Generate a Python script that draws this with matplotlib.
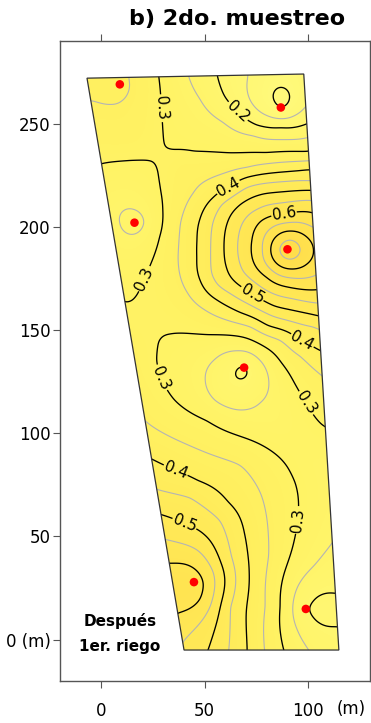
import numpy as np
import matplotlib
matplotlib.use('Agg')
import matplotlib.pyplot as plt
from matplotlib.patches import Polygon
from matplotlib.colors import LinearSegmentedColormap

# outline of the plot (m)
field_x = [-7, 98, 115, 40]
field_y = [272, 274, -5, -5]

# sampling points (red dots) and their values
sample_x = [8.9, 86.9, 16.0, 90.1, 69.1, 44.8, 99.0]
sample_y = [269.0, 257.8, 202.0, 189.1, 131.8, 27.9, 14.9]
sample_val = [0.37, 0.10, 0.23, 0.79, 0.195, 0.625, 0.20]

# points read along each contour line of the map
line_010 = [(84.5, 261), (90.8, 261), (87.6, 266.2), (87.6, 255.7)]
line_015 = [(71.5, 272.5), (72.3, 260.6), (80.4, 254), (93.4, 254), (99, 259)]
line_020 = [(56.2, 272.5), (59.4, 263), (65.9, 255.7), (74.8, 248.5), (87, 249), (99.9, 250),
            (65.8, 130.4), (70.8, 130.4), (68.3, 132.9), (68.3, 127.9),
            (103, 18.5), (113.6, 20.7), (103, 10.8), (113.6, 8.9)]
line_025 = [(42.4, 272), (48, 262.2), (59.4, 251), (73.9, 245.3), (99.9, 243.6),
            (10.2, 202), (21.2, 202), (15.7, 207.5), (15.7, 196.5),
            (50.5, 125.4), (80.9, 125.4), (65.7, 139.5), (65.7, 111.3),
            (55, 135.3), (76.4, 135.3), (55, 115.5), (76.4, 115.5),
            (111.5, 46.5), (103, 35.5), (95, 25.8), (92.6, 16.1), (95, 4.8), (99.9, -4)]
line_030 = [(27.8, 271.9), (28.6, 257.4), (29.5, 247.8), (30.2, 239.1), (35, 236.7), (45, 236),
            (62.6, 235.7), (80, 235.7), (99.9, 235.7),
            (0.3, 230.7), (14.1, 232.3), (24.6, 231.6), (27.8, 226.7), (28.6, 217), (29.5, 208.1),
            (27.8, 195.2), (20.5, 175), (15.7, 166.2), (11.7, 162.2),
            (27, 144.4), (33.5, 147.6), (51.8, 147.6), (67.5, 146.8), (78.8, 142), (86.9, 133.9),
            (93.4, 124.2), (99, 114.6), (106.3, 104.1),
            (26.2, 135.5), (28.6, 126.7), (35.1, 116.2), (51.3, 106.5), (67.5, 98.4), (83.6, 90.4),
            (90.1, 83.9), (94, 76), (95, 58), (93.4, 48.4), (88.5, 32.3), (86.9, 16.1), (88, -4)]
line_035 = [(12.5, 271.5), (13.3, 266.2), (10, 261.5), (4.4, 259.8), (-4.5, 262.2),
            (99.9, 232), (70.7, 228.2), (54.5, 224.3), (44.8, 216), (38, 202), (37, 185),
            (41.6, 168.5), (50, 160), (72.3, 152), (86.9, 145.7), (96.6, 137.9), (106.3, 128.3),
            (22.2, 104.9), (35, 97.5), (51.3, 90.4), (67.5, 85), (77.2, 71), (80.4, 56.5),
            (81.2, 40.3), (79.6, 16.1), (78.8, -4)]
line_040 = [(99.9, 228.3), (70.7, 224.3), (61.8, 218.6), (54.5, 213.9), (48, 204), (46.5, 193.6),
            (46.5, 185), (48, 174.2), (56.2, 164.6), (67.5, 158.1), (80.4, 151.6), (96.6, 143.6),
            (104.7, 140.4),
            (25.4, 87.1), (35.9, 82), (46.5, 76.6), (61, 66.2), (69.1, 51.6), (71.5, 32.3), (70.7, -4)]
line_045 = [(100.6, 221.8), (70.7, 219.5), (57.8, 211.3), (53.7, 201.7), (52.9, 185.5), (53, 177),
            (56, 171.5), (62.6, 167.8), (80.4, 158.1), (103, 152.5),
            (27, 72.6), (43.2, 69.4), (57.8, 58.1), (62.6, 40.3), (61.8, 16.1), (61.8, -4)]
line_050 = [(100.6, 217.8), (78.8, 216.2), (67.5, 211.3), (61, 201.7), (59.4, 188.8), (61, 180),
            (65, 173), (73.2, 167.8), (83.6, 161.3), (104.7, 156.5),
            (29.5, 60.5), (40, 55.7), (49.7, 50.8), (57.8, 37.1), (59.4, 24.2), (56.2, 9.7), (52.1, -4)]
line_055 = [(101.5, 213), (75.6, 208.1), (67.5, 200.1), (65.9, 188.8), (68.5, 178), (78, 170),
            (92, 165.5), (104, 163),
            (31.9, 48.4), (46.5, 43.6), (54.5, 32.3), (52.9, 16.1), (43.2, 3.2), (40, 0)]
line_060 = [(99.9, 207.5), (88.5, 205.7), (77.2, 203.3), (73.2, 193.6), (74, 182.3), (80.4, 176),
            (90.1, 171), (103, 169.4),
            (33.5, 36.3), (43.2, 35.5), (49.7, 27.4), (48, 19.4), (36.7, 13.7)]
line_065 = [(78.8, 188.8), (80.4, 197.6), (92, 202), (101, 200), (85, 177), (92, 175.5), (102.5, 176)]
line_070 = [(81.7, 188.6), (102.3, 188.6), (92, 197.6), (92, 179.7),
            (84.7, 195), (99.3, 195), (84.7, 182.3), (99.3, 182.3)]
line_075 = [(86, 189.2), (96.6, 189.2), (91.3, 194.4), (91.3, 183.9)]

# other values read inside the map
extra_x = [98, 87.6, 68.3, 110, 36, 2, 6, 18, 20, 15, 40, 85, 100, 108, 40]
extra_y = [273, 261, 130.4, 14.5, 25, 215, 190, 140, 120, 245, 228, 105, 85, 70, 125]
extra_val = [0.13, 0.085, 0.19, 0.175, 0.645, 0.27, 0.275, 0.32, 0.33, 0.33, 0.33,
             0.27, 0.28, 0.275, 0.28]

black_levels = [0.1, 0.2, 0.3, 0.4, 0.5, 0.6, 0.7]
gray_levels = [0.15, 0.25, 0.35, 0.45, 0.55, 0.65, 0.75]

# where the contour labels sit
label_pos = [(28.6, 257.4), (65.9, 255.7), (61.8, 218.6), (88.5, 205.7), (20.5, 175),
             (73.2, 167.8), (96.6, 143.6), (28.6, 126.7), (99, 114.6), (35.9, 82),
             (95, 58), (40, 55.7)]


def control_points():
	xs, ys, vs = list(sample_x), list(sample_y), list(sample_val)
	lines = [(0.10, line_010), (0.15, line_015), (0.20, line_020), (0.25, line_025),
	         (0.30, line_030), (0.35, line_035), (0.40, line_040), (0.45, line_045),
	         (0.50, line_050), (0.55, line_055), (0.60, line_060), (0.65, line_065),
	         (0.70, line_070), (0.75, line_075)]
	for lev, pts in lines:
		for px, py in pts:
			xs.append(px)
			ys.append(py)
			vs.append(lev)
	xs += extra_x
	ys += extra_y
	vs += extra_val
	return np.array(xs, float), np.array(ys, float), np.array(vs, float)


def tps_kernel(r):
	with np.errstate(divide='ignore', invalid='ignore'):
		k = r**2 * np.log(r)
	return np.nan_to_num(k)


def tps_grid(x, y, v, gx, gy, smooth=5e-3):
	s = 100.0
	p = np.column_stack([x, y]) / s
	n = len(p)
	r = np.sqrt(((p[:, None, :] - p[None, :, :])**2).sum(-1))
	K = tps_kernel(r) + smooth * np.eye(n)
	P = np.column_stack([np.ones(n), p])
	A = np.zeros((n + 3, n + 3))
	A[:n, :n] = K
	A[:n, n:] = P
	A[n:, :n] = P.T
	b = np.concatenate([v, np.zeros(3)])
	w = np.linalg.solve(A, b)
	q = np.column_stack([gx.ravel(), gy.ravel()]) / s
	rq = np.sqrt(((q[:, None, :] - p[None, :, :])**2).sum(-1))
	z = tps_kernel(rq) @ w[:n] + w[n] + q @ w[n + 1:]
	return z.reshape(gx.shape)


def main():
	x, y, v = control_points()
	gx, gy = np.meshgrid(np.linspace(-10, 118, 260), np.linspace(-8, 278, 560))
	gz = tps_grid(x, y, v, gx, gy)

	cmap = LinearSegmentedColormap.from_list(
		'yel', [(0.0, '#fff97a'), (0.3, '#fff263'), (0.55, '#ffea58'), (1.0, '#ffdd4a')])

	fig = plt.figure(figsize=(3.71, 7.23), dpi=100)
	ax = fig.add_axes([60 / 371, 42 / 723, 310 / 371, 640 / 723])

	outline = Polygon(np.column_stack([field_x, field_y]), closed=True, facecolor='none',
	                  edgecolor='#333333', lw=0.9, zorder=5)
	ax.add_patch(outline)

	cf = ax.contourf(gx, gy, gz, levels=np.linspace(0.0, 0.9, 91), cmap=cmap,
	                 vmin=0.1, vmax=0.8, extend='both')
	cf.set_clip_path(outline)
	cg = ax.contour(gx, gy, gz, levels=gray_levels, colors='#b4b4b4', linewidths=0.8)
	cg.set_clip_path(outline)
	cb = ax.contour(gx, gy, gz, levels=black_levels, colors='black', linewidths=0.95)
	cb.set_clip_path(outline)
	ax.clabel(cb, fmt='%.1f', fontsize=11, inline=True, inline_spacing=3, manual=label_pos)

	ax.scatter(sample_x, sample_y, s=38, color='red', edgecolors='none', zorder=6)

	ax.set_xlim(-20, 130)
	ax.set_ylim(-20, 290)
	ax.set_aspect('equal')

	ax.set_xticks([0, 50, 100])
	ax.set_xticklabels(['0', '50', '100'])
	ax.set_yticks([0, 50, 100, 150, 200, 250])
	ax.set_yticklabels(['0 (m)', '50', '100', '150', '200', '250'])
	ax.tick_params(axis='both', direction='out', length=5, width=0.8, color='#555555',
	               labelsize=12, top=True, right=True)
	ax.tick_params(axis='x', pad=10)
	ax.tick_params(axis='y', pad=2)
	for sp in ax.spines.values():
		sp.set_color('#555555')
		sp.set_linewidth(1.0)

	ax.text(121, -33.5, '(m)', fontsize=12, ha='center', va='center', clip_on=False)
	ax.text(9, 9.3, 'Después', fontsize=11, fontweight='bold', ha='center', va='center')
	ax.text(9, -3.2, '1er. riego', fontsize=11, fontweight='bold', ha='center', va='center')

	fig.text(237 / 371, 1 - 19 / 723, 'b) 2do. muestreo', fontsize=16, fontweight='bold',
	         ha='center', va='center')

	fig.savefig('out.png', dpi=100)


if __name__ == '__main__':
	main()
